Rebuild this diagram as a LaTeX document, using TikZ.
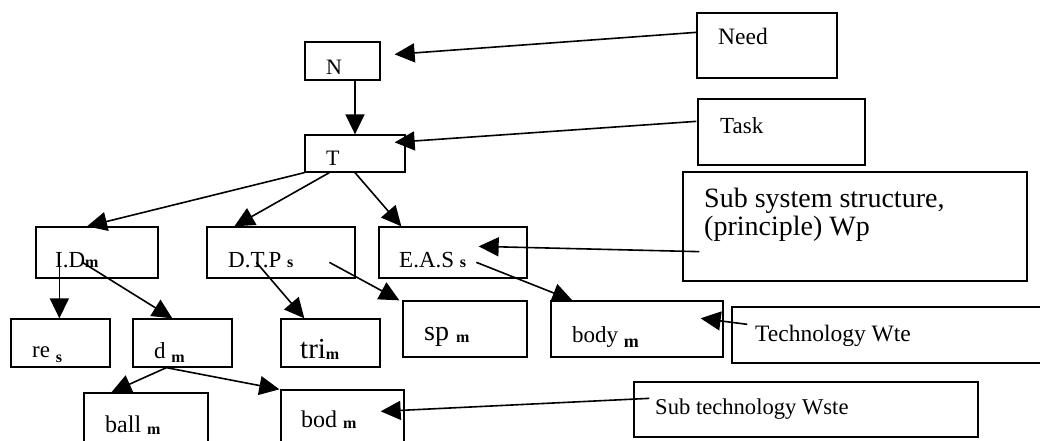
\documentclass[tikz,border=0pt]{standalone}
\usepackage{fontspec}
\setmainfont{Liberation Serif}
\usetikzlibrary{arrows.meta,calc}
\newcommand\subsc[3][0]{\raisebox{-#1pt}{\fontsize{#2}{#2}\selectfont\bfseries #3}}
\begin{document}
\begin{tikzpicture}[x=1pt,y=-1pt,
  box/.style={draw,line width=1.3pt,inner sep=0pt},
  lbl/.style={inner sep=0pt,anchor=base west,font=\fontsize{23}{27}\selectfont},
  arr/.style={line width=1.6pt,-{Triangle[length=20pt,width=19pt]}}]
\useasboundingbox (0,0) rectangle (1040,441);
% boxes
\node[box,minimum width=75pt,minimum height=38pt] (N) at (342.5,61) {};
\node[box,minimum width=100pt,minimum height=37pt] (T) at (355,153.5) {};
\node[box,minimum width=140pt,minimum height=65pt] (need) at (767,45.5) {};
\node[box,minimum width=167pt,minimum height=66pt] (task) at (781.5,132) {};
\node[box,minimum width=344pt,minimum height=109pt] (sub) at (855,226.5) {};
\node[box,minimum width=122pt,minimum height=51pt] (ID) at (97,252.5) {};
\node[box,minimum width=148pt,minimum height=51pt] (DTP) at (281,252.5) {};
\node[box,minimum width=148pt,minimum height=51pt] (EAS) at (453,252.5) {};
\node[box,minimum width=99pt,minimum height=48pt] (re) at (60.5,343) {};
\node[box,minimum width=99pt,minimum height=48pt] (d) at (182.5,343) {};
\node[box,minimum width=99pt,minimum height=48pt] (tri) at (330.5,343) {};
\node[box,minimum width=124pt,minimum height=56pt] (sp) at (465,329) {};
\node[box,minimum width=172pt,minimum height=56pt] (body) at (637,329) {};
\node[box,minimum width=313pt,minimum height=56pt] (tech) at (888.5,335) {};
\node[box,minimum width=124pt,minimum height=67pt] (ball) at (146,426.5) {};
\node[box,minimum width=123pt,minimum height=70pt] (bod) at (342.5,425) {};
\node[box,minimum width=344pt,minimum height=55pt] (subtech) at (806,409.5) {};
% texts
\node[lbl,font=\fontsize{22}{26}\selectfont] (tN) at (326,75) {N};
\node[lbl,font=\fontsize{22}{26}\selectfont] (tT) at (326,165) {T};
\node[lbl,font=\fontsize{23.5}{27}\selectfont] (tneed) at (718,45) {Need};
\node[lbl] (ttask) at (720,133) {Task};
\node[lbl,font=\fontsize{28}{28}\selectfont] (tsub1) at (704,207) {Sub system structure,};
\node[lbl,font=\fontsize{28}{28}\selectfont] (tsub2) at (704,235) {(principle) Wp};
\node[lbl] (tID) at (55,267) {I.D\subsc{16}{m}};
\node[lbl] (tDTP) at (228,267) {D.T.P \subsc{16}{s}};
\node[lbl] (tEAS) at (399,267) {E.A.S \subsc{16}{s}};
\node[lbl] (tre) at (32,357) {re \subsc[5]{16}{s}};
\node[lbl] (td) at (154,358) {d \subsc[4]{16}{m}};
\node[lbl,font=\fontsize{29}{30}\selectfont] (ttri) at (300,358) {tri\subsc[1]{16}{m}};
\node[lbl,font=\fontsize{28}{30}\selectfont] (tsp) at (424,340) {sp \subsc[2]{16}{m}};
\node[lbl] (tbody) at (572,342) {body \subsc[5]{18}{m}};
\node[lbl,font=\fontsize{23.5}{27}\selectfont] (ttech) at (755,341) {Technology Wte};
\node[lbl,font=\fontsize{22.6}{27}\selectfont] (tsubt) at (655,414) {Sub technology Wste};
\node[lbl,font=\fontsize{24}{27}\selectfont] (tball) at (105,432) {ball \subsc[2]{16}{m}};
\node[lbl,font=\fontsize{24}{27}\selectfont] (tbod) at (301,427) {bod \subsc[1]{16}{m}};
% connectors
\draw[arr] ($(need.north west)+(0,20)$) -- ($(N.north east)+(14,13)$);
\draw[arr] (T.north |- N.south) -- (T.north);
\draw[arr] ($(task.north west)+(-1,23)$) -- ($(T.north east)+(-11,8)$);
\draw[arr] (T.south west) -- ($(ID.north)+(-10,0)$);
\draw[arr] ($(T.south west)+(25,0)$) -- ($(DTP.north west)+(28,0)$);
\draw[arr] (T.south) -- ($(EAS.north west)+(23,0)$);
\draw[arr] ($(sub.south west)+(17,-30)$) -- ($(EAS.north east)+(-49,20)$);
\draw[arr] ($(ID.north west)+(24,26)$) -- ($(re.north west)+(49,0)$);
\draw[arr] ($(ID.north west)+(47,36)$) -- ($(d.north west)+(40,0)$);
\draw[arr] ($(DTP.north west)+(50,36)$) -- ($(tri.north west)+(24,0)$);
\draw[arr] ($(DTP.north west)+(123,36)$) -- ($(sp.north west)+(-3,0)$);
\draw[arr] ($(EAS.north west)+(98,36)$) -- ($(body.north west)+(22,0)$);
\draw[arr] ($(tech.north west)+(16,18)$) -- ($(body.north east)+(-23,18)$);
\draw[arr] ($(d.south west)+(34,0)$) -- ($(ball.north west)+(28,0)$);
\draw[arr] ($(d.south west)+(34,0)$) -- ($(bod.north west)+(-1,0)$);
\draw[arr] ($(subtech.north west)+(16,17)$) -- ($(bod.north east)+(-24,22)$);
\end{tikzpicture}
\end{document}
